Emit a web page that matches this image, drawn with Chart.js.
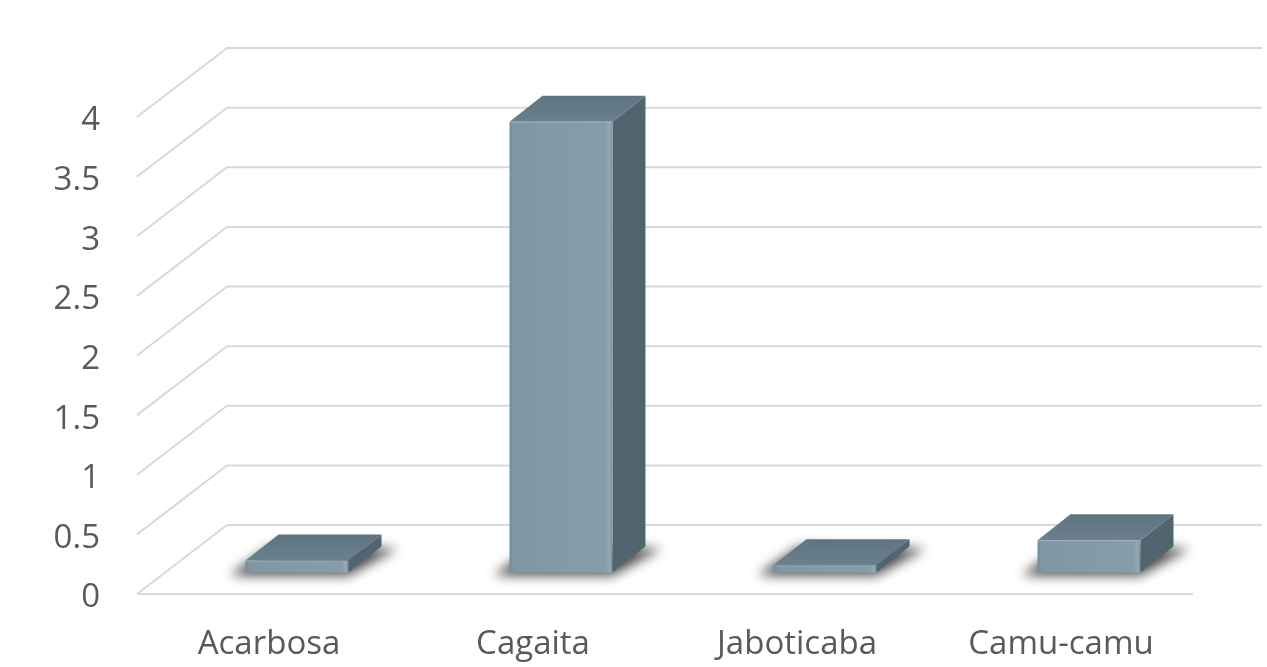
<!DOCTYPE html>
<html><head><meta charset="utf-8">
<script src="https://cdn.jsdelivr.net/npm/chart.js@4/dist/chart.umd.min.js"></script>
<style>html,body{margin:0;padding:0;background:#fff;overflow:hidden}#wrap{width:1267px;height:667px;position:relative}</style>
</head><body><div id="wrap"><canvas id="c" width="1267" height="667"></canvas></div>
<script>
const categories = ['Acarbosa', 'Cagaita', 'Jaboticaba', 'Camu-camu'];
const values = [0.1, 3.78, 0.06, 0.27];
const yTicks = [0, 0.5, 1, 1.5, 2, 2.5, 3, 3.5, 4];
const yTickLabels = ['0', '0.5', '1', '1.5', '2', '2.5', '3', '3.5', '4'];

// 3D projection offsets (pixels)
const DEPTH_X = 90, DEPTH_Y = -69;      // front plane -> back wall
const BAR_OX = 28, BAR_OY = -21.5;      // front plane -> bar front face
const BAR_DX = 33, BAR_DY = -26;        // bar depth
const WALL_RIGHT = 1262;

const FONT = { family: "'Open Sans', 'Noto Sans', sans-serif", size: 33 };
const TEXT = '#595959';

const threeD = {
  id: 'threeD',
  beforeDatasetsDraw(chart) {
    const { ctx, chartArea: a, scales: { y } } = chart;
    ctx.save();
    ctx.strokeStyle = '#d9d9d9';
    ctx.lineWidth = 2;
    yTicks.forEach(v => {
      const yf = y.getPixelForValue(v);
      ctx.beginPath();
      ctx.moveTo(a.left, yf);
      ctx.lineTo(a.left + DEPTH_X, yf + DEPTH_Y);
      ctx.lineTo(WALL_RIGHT, yf + DEPTH_Y);
      ctx.stroke();
    });
    const y0 = y.getPixelForValue(0);
    ctx.beginPath();
    ctx.moveTo(a.left, y0);
    ctx.lineTo(a.right, y0);
    ctx.stroke();
    ctx.restore();
  },
  afterDatasetsDraw(chart) {
    const ctx = chart.ctx;
    const meta = chart.getDatasetMeta(0);
    const boxes = meta.data.map(b => {
      const p = b.getProps(['x', 'y', 'base', 'width'], true);
      return {
        l: p.x - p.width / 2 + BAR_OX,
        r: p.x + p.width / 2 + BAR_OX,
        t: p.y + BAR_OY,
        b: p.base + BAR_OY
      };
    });
    // soft floor shadows
    boxes.forEach(k => {
      ctx.save();
      ctx.filter = 'blur(6px)';
      ctx.fillStyle = 'rgba(0,0,0,0.7)';
      ctx.beginPath();
      ctx.moveTo(k.l - 16, k.b + 3);
      ctx.lineTo(k.r, k.b + 3);
      ctx.lineTo(k.r + BAR_DX + 16, k.b + BAR_DY + 2);
      ctx.lineTo(k.l + BAR_DX - 8, k.b + BAR_DY);
      ctx.closePath();
      ctx.fill();
      ctx.restore();
    });
    boxes.forEach(k => {
      ctx.save();
      // side face
      ctx.fillStyle = '#506570';
      ctx.beginPath();
      ctx.moveTo(k.r, k.t);
      ctx.lineTo(k.r + BAR_DX, k.t + BAR_DY);
      ctx.lineTo(k.r + BAR_DX, k.b + BAR_DY);
      ctx.lineTo(k.r, k.b);
      ctx.closePath();
      ctx.fill();
      // top face
      const tg = ctx.createLinearGradient(0, k.t, 0, k.t + BAR_DY);
      tg.addColorStop(0, '#6a808d');
      tg.addColorStop(1, '#5e7480');
      ctx.fillStyle = tg;
      ctx.beginPath();
      ctx.moveTo(k.l, k.t);
      ctx.lineTo(k.r, k.t);
      ctx.lineTo(k.r + BAR_DX, k.t + BAR_DY);
      ctx.lineTo(k.l + BAR_DX, k.t + BAR_DY);
      ctx.closePath();
      ctx.fill();
      // front face
      const fg = ctx.createLinearGradient(k.l, 0, k.r, 0);
      fg.addColorStop(0, '#758b99');
      fg.addColorStop(0.04, '#8096a4');
      fg.addColorStop(0.5, '#849aa7');
      fg.addColorStop(0.93, '#879ca9');
      fg.addColorStop(0.97, '#93a8b4');
      fg.addColorStop(1, '#7d929f');
      ctx.fillStyle = fg;
      ctx.fillRect(k.l, k.t, k.r - k.l, k.b - k.t);
      // top edge highlight
      ctx.strokeStyle = 'rgba(160,180,192,0.7)';
      ctx.lineWidth = 1;
      ctx.beginPath();
      ctx.moveTo(k.l + 1, k.t + 0.5);
      ctx.lineTo(k.r - 1, k.t + 0.5);
      ctx.stroke();
      ctx.restore();
    });
  }
};

new Chart(document.getElementById('c'), {
  type: 'bar',
  data: {
    labels: categories,
    datasets: [{
      data: values,
      backgroundColor: 'rgba(0,0,0,0)',
      borderWidth: 0,
      categoryPercentage: 1,
      barPercentage: 0.39
    }]
  },
  options: {
    responsive: false,
    animation: false,
    devicePixelRatio: 1,
    layout: { padding: { left: 0, right: 74, top: 117, bottom: 0 } },
    plugins: { legend: { display: false }, tooltip: { enabled: false } },
    scales: {
      x: {
        grid: { display: false, drawTicks: false },
        border: { display: false },
        ticks: { color: TEXT, font: FONT, padding: 31, maxRotation: 0 },
        afterFit(s) { s.height = 73; }
      },
      y: {
        min: 0, max: 4,
        grid: { display: false, drawTicks: false },
        border: { display: false },
        afterBuildTicks(s) { s.ticks = yTicks.map(v => ({ value: v })); },
        ticks: {
          color: TEXT, font: FONT, padding: 37, labelOffset: 4,
          callback: (v, i) => yTickLabels[i]
        },
        afterFit(s) { s.width = 137; }
      }
    }
  },
  plugins: [threeD]
});
</script>
</body></html>
